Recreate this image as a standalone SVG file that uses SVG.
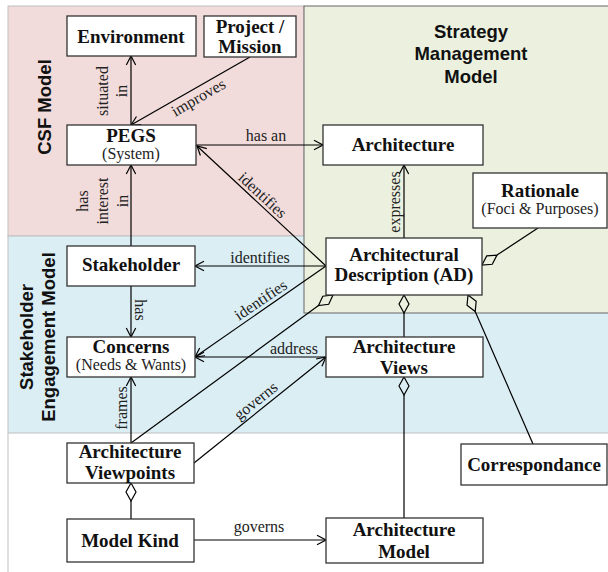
<svg xmlns="http://www.w3.org/2000/svg" width="608" height="572" viewBox="0 0 608 572">
<style>
.node rect{fill:#fff;stroke:#333;stroke-width:1.3}
.nt{font-family:"Liberation Serif","Times New Roman",serif;font-size:19px;font-weight:bold;fill:#111;text-anchor:middle}
.ns{font-family:"Liberation Serif","Times New Roman",serif;font-size:16px;fill:#222;text-anchor:middle}
.lb{font-family:"Liberation Serif","Times New Roman",serif;font-size:16px;fill:#222;text-anchor:middle}
.sec{font-family:"Liberation Sans",Arial,sans-serif;font-size:18.5px;font-weight:bold;fill:#111;text-anchor:middle}
.c{stroke:#000;stroke-width:1.2;fill:none}
.a{marker-end:url(#arr)}
.d{marker-start:url(#dia)}
</style>
<defs>
<marker id="arr" markerUnits="userSpaceOnUse" markerWidth="12" markerHeight="12" refX="10" refY="6" orient="auto" overflow="visible"><path d="M1,1.3 L10,6 L1,10.7" fill="none" stroke="#000" stroke-width="1.2"/></marker>
<marker id="dia" markerUnits="userSpaceOnUse" markerWidth="20" markerHeight="12" refX="19" refY="6" orient="auto" overflow="visible"><path d="M1,6 L10,1 L19,6 L10,11 Z" fill="none" stroke="#000" stroke-width="1.2"/></marker>
</defs>
<g id="regions">
<rect x="0" y="0" width="608" height="572" fill="#fff"/>
<rect x="8" y="6" width="296" height="230" fill="#f2dcdb" stroke="#bfbfbf" stroke-width="1"/>
<rect x="8" y="236" width="604" height="197" fill="#dbeef4" stroke="#bfbfbf" stroke-width="1"/>
<line x1="8" y1="433" x2="8" y2="572" stroke="#bfbfbf" stroke-width="1"/>
<rect x="304" y="6" width="310" height="307" fill="#ebf1de" stroke="#666" stroke-width="1"/>
<text class="sec" transform="translate(51,107) rotate(-90)">CSF Model</text>
<text class="sec" transform="translate(33,337) rotate(-90)">Stakeholder</text>
<text class="sec" transform="translate(55,337) rotate(-90)">Engagement Model</text>
<text class="sec" x="471" y="38">Strategy</text>
<text class="sec" x="471" y="60">Management</text>
<text class="sec" x="471" y="83">Model</text>
</g>
<g id="connectors">
<line class="c a" x1="131" y1="125" x2="131" y2="56"/>
<line class="c a" x1="250" y1="57" x2="131" y2="125"/>
<line class="c a" x1="196" y1="145" x2="323" y2="145"/>
<line class="c a" x1="326" y1="266" x2="197" y2="146"/>
<line class="c a" x1="131" y1="246" x2="131" y2="165"/>
<line class="c a" x1="404" y1="238" x2="404" y2="165"/>
<line class="c a" x1="326" y1="266" x2="195" y2="266"/>
<line class="c a" x1="326" y1="266" x2="195" y2="357"/>
<line class="c a" x1="131" y1="286" x2="131" y2="337"/>
<line class="c a" x1="326" y1="357" x2="195" y2="357"/>
<line class="c a" x1="131" y1="443" x2="131" y2="377"/>
<line class="c a" x1="194" y1="463" x2="326" y2="357"/>
<line class="c a" x1="194" y1="540" x2="326" y2="540"/>
<line class="c d" x1="318.5" y1="305.6" x2="131" y2="443"/>
<line class="c d" x1="404" y1="313" x2="404" y2="337"/>
<line class="c d" x1="475.2" y1="311.5" x2="533" y2="444"/>
<line class="c d" x1="497" y1="255.1" x2="538" y2="228"/>
<line class="c d" x1="404" y1="395" x2="404" y2="518"/>
<line class="c d" x1="131" y1="501" x2="131" y2="519"/>
<text class="lb" transform="translate(108,91) rotate(-90)">situated</text>
<text class="lb" transform="translate(127,91) rotate(-90)">in</text>
<text class="lb" transform="translate(201,102) rotate(-30)">improves</text>
<text class="lb" x="266" y="141">has an</text>
<text class="lb" transform="translate(259,199) rotate(43)">identifies</text>
<text class="lb" transform="translate(88,201) rotate(-90)">has</text>
<text class="lb" transform="translate(108,201) rotate(-90)">interest</text>
<text class="lb" transform="translate(128,201) rotate(-90)">in</text>
<text class="lb" transform="translate(400,202) rotate(-90)">expresses</text>
<text class="lb" x="260" y="263">identifies</text>
<text class="lb" transform="translate(263.7,304.3) rotate(-34)">identifies</text>
<text class="lb" transform="translate(135,310) rotate(90)">has</text>
<text class="lb" x="294" y="354">address</text>
<text class="lb" transform="translate(127,408) rotate(-90)">frames</text>
<text class="lb" transform="translate(259,405) rotate(-38.8)">governs</text>
<text class="lb" x="259" y="532">governs</text>
</g>
<g id="environment" class="node"><rect x="67" y="16" width="129" height="40"/><text class="nt" x="131" y="43">Environment</text></g>
<g id="project-mission" class="node"><rect x="204" y="16" width="92" height="41"/><text class="nt" x="250" y="33">Project /</text><text class="nt" x="250" y="53">Mission</text></g>
<g id="pegs" class="node"><rect x="67" y="125" width="129" height="40"/><text class="nt" x="131" y="142">PEGS</text><text class="ns" x="131" y="159">(System)</text></g>
<g id="architecture" class="node"><rect x="323" y="125" width="160" height="40"/><text class="nt" x="403" y="151">Architecture</text></g>
<g id="rationale" class="node"><rect x="473" y="173" width="134" height="55"/><text class="nt" x="540" y="197">Rationale</text><text class="ns" x="540" y="214">(Foci &amp; Purposes)</text></g>
<g id="stakeholder" class="node"><rect x="67" y="246" width="128" height="40"/><text class="nt" x="131" y="271">Stakeholder</text></g>
<g id="concerns" class="node"><rect x="67" y="337" width="128" height="40"/><text class="nt" x="131" y="353">Concerns</text><text class="ns" x="131" y="370">(Needs &amp; Wants)</text></g>
<g id="architectural-description" class="node"><rect x="326" y="238" width="156" height="57"/><text class="nt" x="404" y="261">Architectural</text><text class="nt" x="404" y="281">Description (AD)</text></g>
<g id="architecture-views" class="node"><rect x="326" y="337" width="157" height="40"/><text class="nt" x="404" y="353">Architecture</text><text class="nt" x="404" y="374">Views</text></g>
<g id="architecture-viewpoints" class="node"><rect x="67" y="443" width="127" height="40"/><text class="nt" x="130" y="458">Architecture</text><text class="nt" x="130" y="479">Viewpoints</text></g>
<g id="correspondance" class="node"><rect x="461" y="444" width="146" height="41"/><text class="nt" x="534" y="471">Correspondance</text></g>
<g id="model-kind" class="node"><rect x="67" y="519" width="127" height="43"/><text class="nt" x="130" y="547">Model Kind</text></g>
<g id="architecture-model" class="node"><rect x="326" y="518" width="157" height="45"/><text class="nt" x="404" y="536">Architecture</text><text class="nt" x="404" y="558">Model</text></g>
</svg>
